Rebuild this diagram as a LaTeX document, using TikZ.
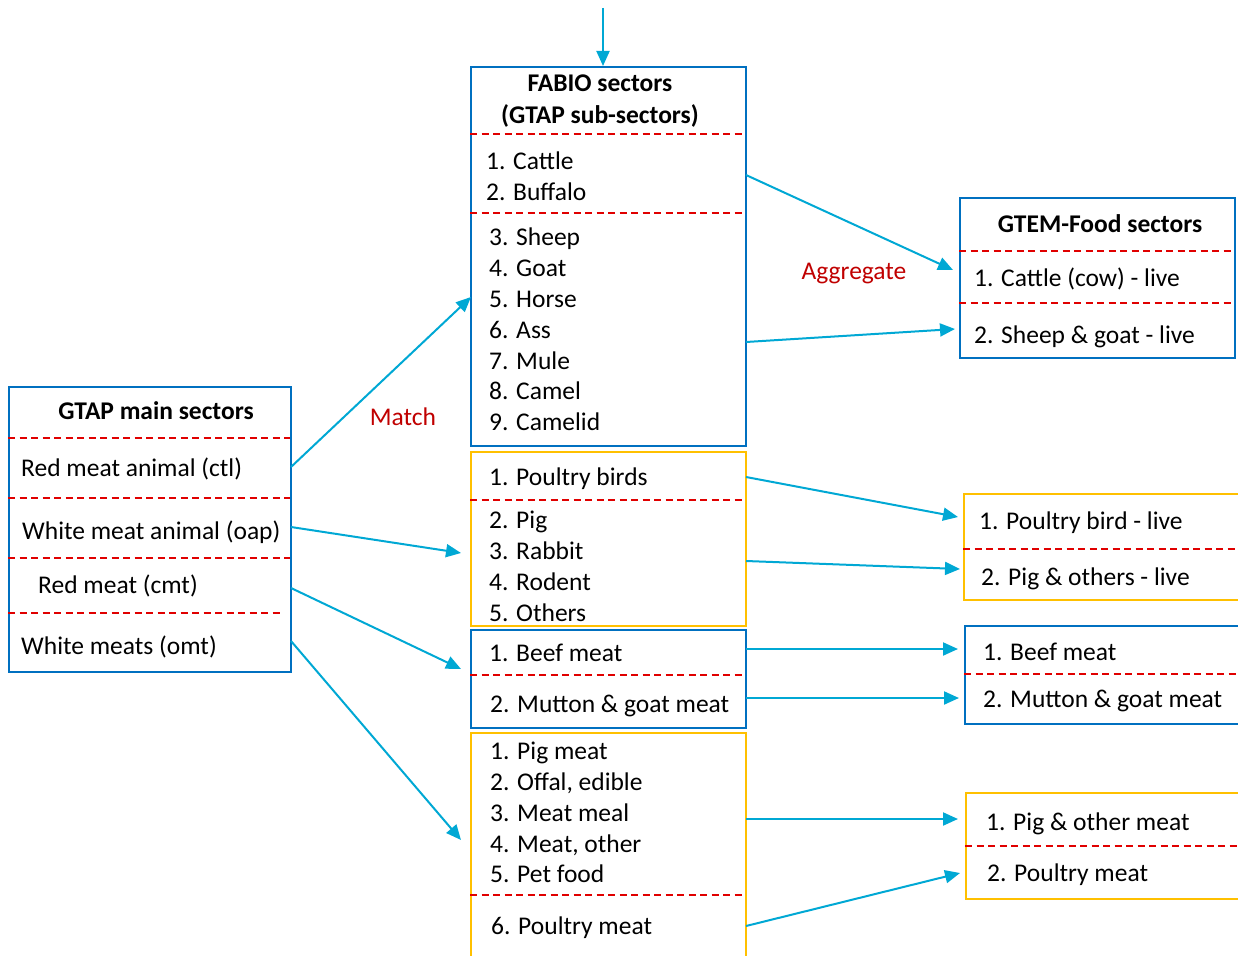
\documentclass[tikz,border=0pt]{standalone}
\usepackage{fontspec}
\setmainfont{Carlito}
\usetikzlibrary{arrows.meta}
\definecolor{bluebox}{HTML}{0070C0}
\definecolor{yelbox}{HTML}{FFC000}
\definecolor{reddash}{HTML}{E00000}
\definecolor{arrowc}{HTML}{00A8D4}
\definecolor{labred}{HTML}{C00000}
\begin{document}
\begin{tikzpicture}[x=1pt,y=-1pt,
 box/.style={inner sep=0pt, anchor=north west, line width=2.2pt},
 bbox/.style={box, draw=bluebox},
 ybox/.style={box, draw=yelbox},
 sep/.style={draw=reddash, line width=1.4pt, dash pattern=on 7pt off 4.5pt},
 txt/.style={anchor=base west, inner sep=0pt, font=\fontsize{25.5}{30}\selectfont},
 ttl/.style={anchor=base, inner sep=0pt, font=\bfseries\fontsize{25.5}{30}\selectfont},
 lab/.style={anchor=base, inner sep=0pt, text=labred, font=\fontsize{25.5}{30}\selectfont},
 arr/.style={draw=arrowc, line width=2pt, -{Triangle[length=15pt,width=13pt]}}]
\useasboundingbox (0,0) rectangle (1238,955);
\clip (0,0) rectangle (1238,955);

% ---------- boxes ----------
\node[bbox, minimum width=275pt, minimum height=379pt] (fabio) at (470,66) {};
\node[ybox, minimum width=275pt, minimum height=174pt] (yone) at (470,451) {};
\node[bbox, minimum width=275pt, minimum height=98pt] (btwo) at (470,629) {};
\node[ybox, minimum width=275pt, minimum height=240pt] (ythree) at (470,732) {};
\node[bbox, minimum width=282pt, minimum height=285pt] (gtap) at (8,386) {};
\node[bbox, minimum width=275pt, minimum height=160pt] (gtem) at (959,197) {};
\node[ybox, minimum width=290pt, minimum height=106pt] (ryone) at (963,493) {};
\node[bbox, minimum width=290pt, minimum height=98pt] (rbtwo) at (964,625) {};
\node[ybox, minimum width=290pt, minimum height=106pt] (rythree) at (965,792) {};

% ---------- separators ----------
\draw[sep] (470,134) -- (745,134);
\draw[sep] (470,213) -- (745,213);
\draw[sep] (470,500) -- (745,500);
\draw[sep] (470,675) -- (745,675);
\draw[sep] (470,895) -- (745,895);
\draw[sep] (8,438) -- (290,438);
\draw[sep] (8,498) -- (290,498);
\draw[sep] (8,558) -- (290,558);
\draw[sep] (8,613) -- (283,613);
\draw[sep] (959,251) -- (1234,251);
\draw[sep] (959,303) -- (1234,303);
\draw[sep] (963,549) -- (1238,549);
\draw[sep] (964,674) -- (1238,674);
\draw[sep] (965,846) -- (1238,846);

% ---------- texts ----------
\node[ttl] (fabt1) at (600,92) {FABIO sectors};
\node[ttl] (fabt2) at (600,123) {(GTAP sub-sectors)};
\node[txt] (f1) at (486,169) {1. Cattle};
\node[txt] (f2) at (486,200) {2. Buffalo};
\node[txt] (f3) at (489,245) {3. Sheep};
\node[txt] (f4) at (489,276) {4. Goat};
\node[txt] (f5) at (489,307) {5. Horse};
\node[txt] (f6) at (489,338) {6. Ass};
\node[txt] (f7) at (489,369) {7. Mule};
\node[txt] (f8) at (489,399) {8. Camel};
\node[txt] (f9) at (489,430) {9. Camelid};

\node[txt] (y1) at (489,485) {1. Poultry birds};
\node[txt] (y2) at (489,528) {2. Pig};
\node[txt] (y3) at (489,559) {3. Rabbit};
\node[txt] (y4) at (489,590) {4. Rodent};
\node[txt] (y5) at (489,621) {5. Others};

\node[txt] (b1) at (489,661) {1. Beef meat};
\node[txt] (b2) at (490,712) {2. Mutton \& goat meat};

\node[txt] (m1) at (490,759) {1. Pig meat};
\node[txt] (m2) at (490,790) {2. Offal, edible};
\node[txt] (m3) at (490,821) {3. Meat meal};
\node[txt] (m4) at (490,852) {4. Meat, other};
\node[txt] (m5) at (490,882) {5. Pet food};
\node[txt] (m6) at (491,934) {6. Poultry meat};

\node[ttl] (gtapt) at (156,419) {GTAP main sectors};
\node[txt] (g1) at (21,476) {Red meat animal (ctl)};
\node[txt] (g2) at (22,539) {White meat animal (oap)};
\node[txt] (g3) at (38,593) {Red meat (cmt)};
\node[txt] (g4) at (21,654) {White meats (omt)};

\node[ttl] (gtemt) at (1100,232) {GTEM-Food sectors};
\node[txt] (e1) at (974,286) {1. Cattle (cow) - live};
\node[txt] (e2) at (974,343) {2. Sheep \& goat - live};
\node[txt] (r1) at (979,529) {1. Poultry bird - live};
\node[txt] (r2) at (981,585) {2. Pig \& others - live};
\node[txt] (r3) at (983,660) {1. Beef meat};
\node[txt] (r4) at (983,707) {2. Mutton \& goat meat};
\node[txt] (r5) at (986,830) {1. Pig \& other meat};
\node[txt] (r6) at (987,881) {2. Poultry meat};

\node[lab] (match) at (403,425) {Match};
\node[lab] (aggr) at (854,279) {Aggregate};

% ---------- connector ends ----------
\coordinate (top) at (603,8);
\coordinate (topin) at (603,66);
\coordinate (gs1) at (291,467);
\coordinate (gs2) at (291,527);
\coordinate (gs3) at (291,588);
\coordinate (gs4) at (291,641);
\coordinate (fin1) at (471,297);
\coordinate (fin2) at (461,553);
\coordinate (fin3) at (461,669);
\coordinate (fin4) at (461,840);
\coordinate (fo1) at (746,175);
\coordinate (fo2) at (746,342);
\coordinate (fo3) at (746,477);
\coordinate (fo4) at (746,561);
\coordinate (fo5) at (746,649);
\coordinate (fo6) at (746,698);
\coordinate (fo7) at (746,819);
\coordinate (fo8) at (746,926);
\coordinate (ri1) at (953,270);
\coordinate (ri2) at (955,329);
\coordinate (ri3) at (958,517);
\coordinate (ri4) at (960,569);
\coordinate (ri5) at (958,649);
\coordinate (ri6) at (959,698);
\coordinate (ri7) at (958,819);
\coordinate (ri8) at (960,873);

% ---------- connectors ----------
\draw[arr] (top) -- (topin);
\draw[arr] (gs1) -- (fin1);
\draw[arr] (gs2) -- (fin2);
\draw[arr] (gs3) -- (fin3);
\draw[arr] (gs4) -- (fin4);
\draw[arr] (fo1) -- (ri1);
\draw[arr] (fo2) -- (ri2);
\draw[arr] (fo3) -- (ri3);
\draw[arr] (fo4) -- (ri4);
\draw[arr] (fo5) -- (ri5);
\draw[arr] (fo6) -- (ri6);
\draw[arr] (fo7) -- (ri7);
\draw[arr] (fo8) -- (ri8);
\end{tikzpicture}
\end{document}
